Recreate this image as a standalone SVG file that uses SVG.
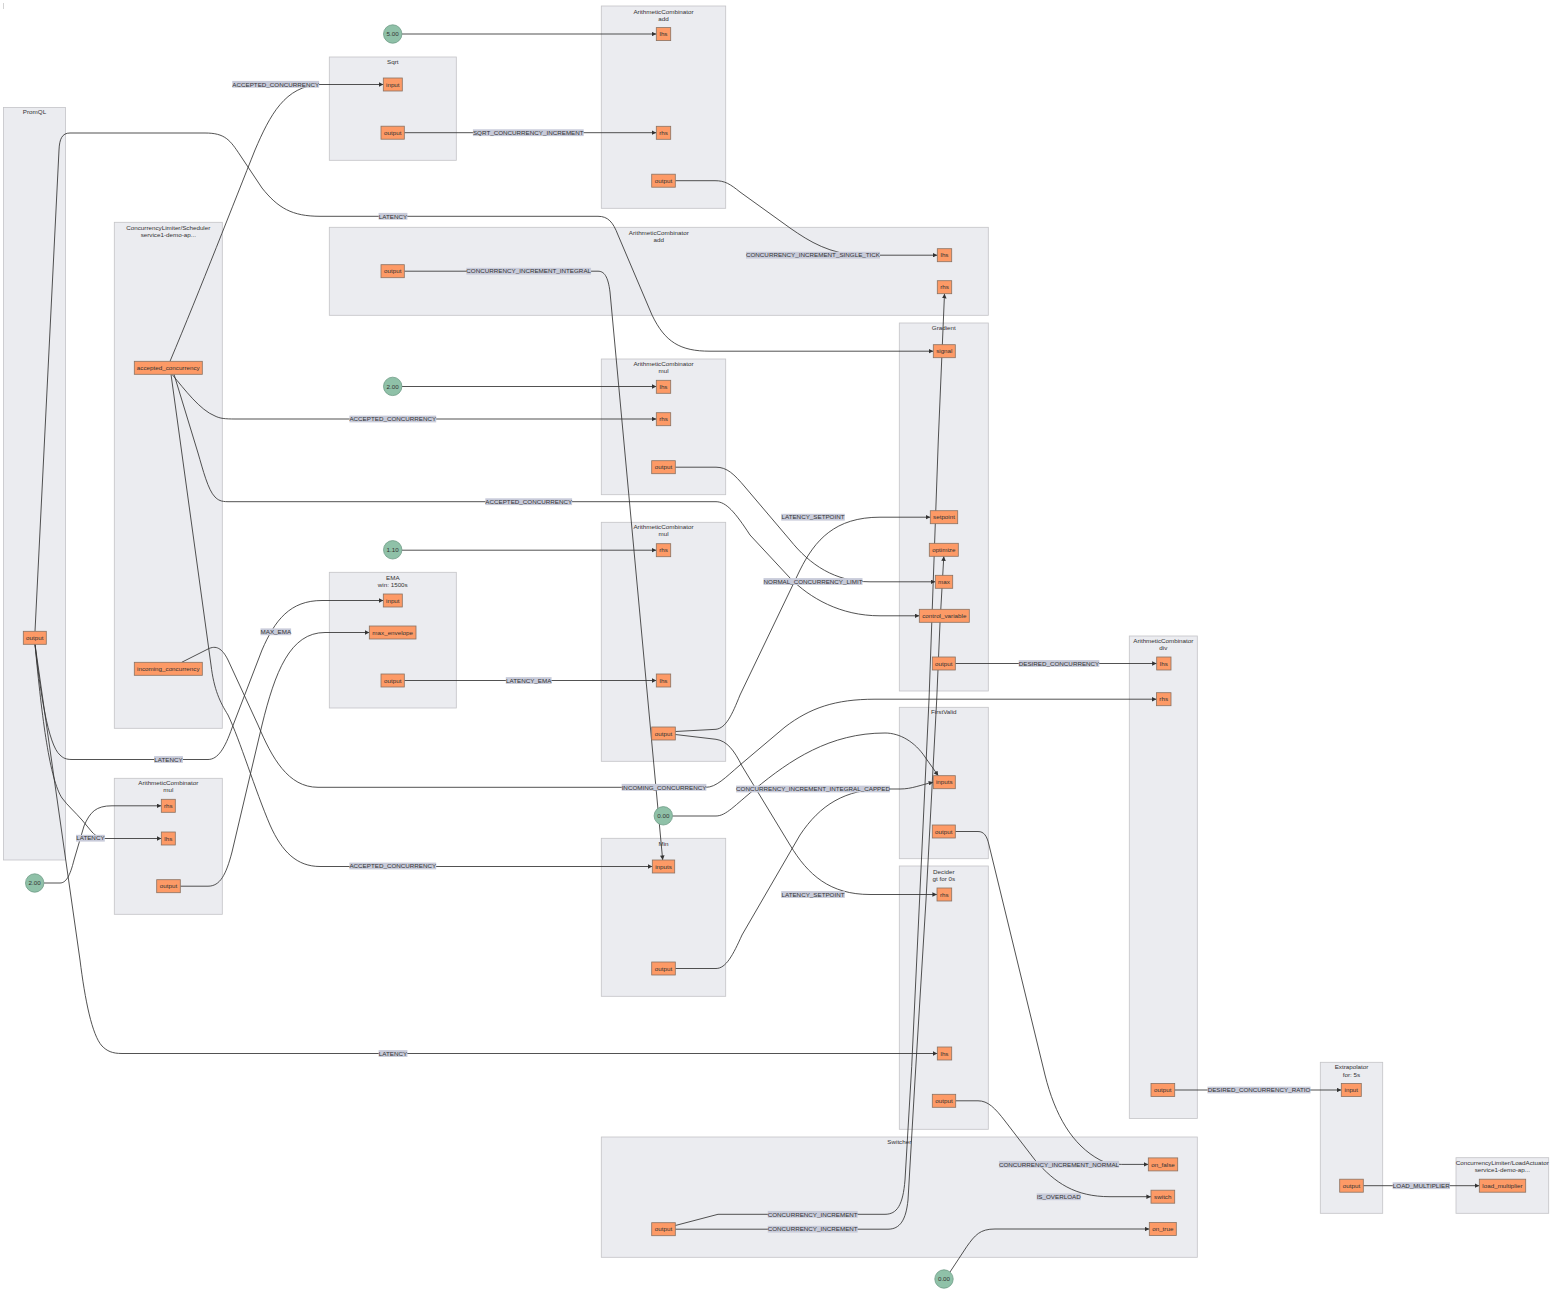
<svg xmlns="http://www.w3.org/2000/svg" width="1568" height="1306" viewBox="0 0 1568 1306">
<defs>
<marker id="arr" viewBox="0 0 10 10" refX="10" refY="5" markerWidth="5" markerHeight="4.6" markerUnits="userSpaceOnUse" orient="auto"><path d="M0,0 L10,5 L0,10 z" fill="#333"/></marker>
<style>
.cl rect{fill:#ebecf0;stroke:#c4c4c7;stroke-width:0.8}
.t{font-family:"Liberation Sans",Arial,sans-serif;font-size:6.25px;fill:#333;text-anchor:middle}
.port rect{fill:#fd9a66;stroke:#8a7262;stroke-width:0.8}
.const circle{fill:#8fc1a8;stroke:#6f9c86;stroke-width:0.8}
.e{fill:none;stroke:#333;stroke-width:0.85;marker-end:url(#arr)}
.lb rect{fill:#c8cbda}
</style>
</defs>
<rect width="1568" height="1306" fill="#fff"/>
<line x1="3.5" y1="3" x2="3.5" y2="9" stroke="#c8c8c8" stroke-width="0.8"/>

<!-- clusters -->
<g id="cluster-promql" class="cl"><rect x="3.5" y="107.5" width="62" height="752.5"/><text class="t" x="34.5" y="113.9">PromQL</text></g>
<g id="cluster-scheduler" class="cl"><rect x="114.3" y="222.3" width="108" height="506"/><text class="t" x="168.3" y="229.9">ConcurrencyLimiter/Scheduler</text><text class="t" x="168.3" y="236.9">service1-demo-ap...</text></g>
<g id="cluster-sqrt" class="cl"><rect x="329.3" y="57" width="127" height="103.3"/><text class="t" x="392.8" y="64.2">Sqrt</text></g>
<g id="cluster-add1" class="cl"><rect x="601.3" y="6" width="124.4" height="202.3"/><text class="t" x="663.5" y="13.9">ArithmeticCombinator</text><text class="t" x="663.5" y="20.9">add</text></g>
<g id="cluster-add2" class="cl"><rect x="329.3" y="227.3" width="659" height="88"/><text class="t" x="658.8" y="234.9">ArithmeticCombinator</text><text class="t" x="658.8" y="241.9">add</text></g>
<g id="cluster-mul1" class="cl"><rect x="601.3" y="359" width="124.4" height="135.7"/><text class="t" x="663.5" y="365.9">ArithmeticCombinator</text><text class="t" x="663.5" y="372.9">mul</text></g>
<g id="cluster-gradient" class="cl"><rect x="899.3" y="323" width="89" height="368"/><text class="t" x="943.8" y="329.9">Gradient</text></g>
<g id="cluster-ema" class="cl"><rect x="329.3" y="572.3" width="127" height="135.7"/><text class="t" x="392.8" y="579.9">EMA</text><text class="t" x="392.8" y="586.9">win: 1500s</text></g>
<g id="cluster-mul3" class="cl"><rect x="601.3" y="522.3" width="124.4" height="239"/><text class="t" x="663.5" y="528.9">ArithmeticCombinator</text><text class="t" x="663.5" y="535.9">mul</text></g>
<g id="cluster-mul2" class="cl"><rect x="114.3" y="778.3" width="108" height="136"/><text class="t" x="168.3" y="785.2">ArithmeticCombinator</text><text class="t" x="168.3" y="792.2">mul</text></g>
<g id="cluster-min" class="cl"><rect x="601.3" y="838.3" width="124.4" height="158"/><text class="t" x="663.5" y="845.9">Min</text></g>
<g id="cluster-firstvalid" class="cl"><rect x="899.3" y="707.3" width="89" height="151.4"/><text class="t" x="943.8" y="713.9">FirstValid</text></g>
<g id="cluster-decider" class="cl"><rect x="899.3" y="866" width="89" height="263.3"/><text class="t" x="943.8" y="873.9">Decider</text><text class="t" x="943.8" y="880.9">gt for 0s</text></g>
<g id="cluster-div" class="cl"><rect x="1129.3" y="636" width="68" height="482.4"/><text class="t" x="1163.3" y="643">ArithmeticCombinator</text><text class="t" x="1163.3" y="650">div</text></g>
<g id="cluster-switcher" class="cl"><rect x="601.3" y="1137" width="596" height="120.3"/><text class="t" x="899.3" y="1143.9">Switcher</text></g>
<g id="cluster-extrapolator" class="cl"><rect x="1320.3" y="1062.3" width="62.4" height="151"/><text class="t" x="1351.5" y="1068.9">Extrapolator</text><text class="t" x="1351.5" y="1076.5">for: 5s</text></g>
<g id="cluster-loadactuator" class="cl"><rect x="1456" y="1157.7" width="92.7" height="55.6"/><text class="t" x="1502.3" y="1164.9">ConcurrencyLimiter/LoadActuator</text><text class="t" x="1502.3" y="1171.9">service1-demo-ap...</text></g>

<!-- connectors -->
<g id="connectors">
<path class="e" d="M401.9,34 H656.3"/>
<path class="e" d="M170,361.3 C200,290 235,200 255,150 C270,115 285,86 320,84.5 H383.3"/>
<path class="e" d="M404.3,132.7 H656.3"/>
<path class="e" d="M35,631.3 L59,150 C59.5,139 62,133 70,133 H205 C225,133 230,140 240,155 L262,188 C278,208 292,216.3 320,216.3 H598 C608,216.3 613,222 618,235 L652,315 C665,342 680,351.2 710,351.2 H933.3"/>
<path class="e" d="M675.3,180.7 H715 C725,180.7 730,184 740,192 L790,228 C810,242 830,254 860,255.2 H937.3"/>
<path class="e" d="M404.3,271.2 H598 C604,271.2 608,276 610,292 L662.7,860"/>
<path class="e" d="M675.3,1225.5 L718,1214.3 H885 C897,1214.3 903,1205 905,1180 L911.7,1066.7 L929,700 L938.3,440 L944.5,293.7"/>
<path class="e" d="M675.3,1229.2 H888 C900,1229.2 906,1220 908,1200 L915,1080 L926,900 L936.7,700 L940,623 L943.8,556.3"/>
<path class="e" d="M172,374.3 C185,390 200,410 215,416 C220,418.5 225,419 235,419 H656.3"/>
<path class="e" d="M401.9,386.5 H656.3"/>
<path class="e" d="M174,374.3 L198,453 C203,470 208,490 215,497 C218,500 221,501.7 228,501.7 H716 C726,501.7 735,512 750,535 L790,578 C810,598 840,615.8 880,615.8 H919.3"/>
<path class="e" d="M171,374.3 L211,665 C214,690 220,702 228,715 C240,740 255,790 270,825 C282,852 297,866.5 320,866.5 H652.3"/>
<path class="e" d="M181.7,662.3 L208,649 C216,645 222,648 228,660 L258,725 C272,758 288,787.3 318,787.3 H706 C716,787.3 725,778 740,765 L785,727 C810,708 835,699.2 875,699.2 H1156.4"/>
<path class="e" d="M35,644.3 C40,690 48,745 60,755 C63,758 66,759.5 72,759.5 H208 C218,759.5 225,748 232,728 L262,650 C275,620 290,600.5 322,600.5 H383.3"/>
<path class="e" d="M180.3,886.2 H208 C220,886.2 226,875 232,852 L262,725 C275,672 290,632.5 325,632.5 H369.3"/>
<path class="e" d="M35,644.3 C42,720 50,780 62,798 C68,806 75,812 82,820 L92,832 C96,836 99,838.5 106,838.5 H161.3"/>
<path class="e" d="M43.9,883 H60 C66,883 70,876 74,860 L84,826 C90,812 96,805.8 112,805.8 H161.3"/>
<path class="e" d="M35,644.3 L80,960 C85,1000 92,1035 102,1046 C107,1051 112,1053.5 122,1053.5 H937.3"/>
<path class="e" d="M404.3,680.5 H656.3"/>
<path class="e" d="M401.9,550.2 H656.3"/>
<path class="e" d="M675.3,731.5 L716,729.3 C726,728 732,715 740,695 L800,570 C815,540 835,517.2 880,517.2 H930.3"/>
<path class="e" d="M675.3,734.5 L716,739.3 C727,741 734,750 742,766 L790,845 C808,875 830,894.5 870,894.5 H937"/>
<path class="e" d="M675.3,467.2 H716 C727,467.2 734,474 745,487 L790,540 C810,565 835,581.8 870,581.8 H935.3"/>
<path class="e" d="M672.5,816 H716 C726,816 735,805 755,789 C790,760 830,733 885,733 C900,733 915,742 925,757 L938.3,775.7"/>
<path class="e" d="M675.3,968.5 H716 C726,968.5 733,955 742,935 L800,835 C820,805 845,789 885,789 H900 C912,789 920,785 933.3,782.2"/>
<path class="e" d="M955.3,663.5 H1156.7"/>
<path class="e" d="M955.3,831.5 H978 C984,831.5 987,836 989,845 L1045,1075 C1055,1115 1072,1145 1100,1160 C1108,1164 1115,1164.4 1125,1164.4 H1148.3"/>
<path class="e" d="M955.7,1100.8 H978 C988,1100.8 995,1108 1005,1121 L1035,1160 C1055,1183 1075,1196.7 1110,1196.7 H1151"/>
<path class="e" d="M950,1272 L966.7,1246.7 C975,1235 980,1229 995,1229 H1149.3"/>
<path class="e" d="M1174.7,1090 H1341.3"/>
<path class="e" d="M1363.3,1185.7 H1479.3"/>
</g>

<!-- edge labels -->
<g id="edge-labels" class="lb">
<rect x="232.3" y="80.9" width="86.8" height="6.8"/><text class="t" x="275.7" y="86.5">ACCEPTED_CONCURRENCY</text>
<rect x="472.9" y="129.3" width="110.8" height="6.8"/><text class="t" x="528.3" y="134.9">SQRT_CONCURRENCY_INCREMENT</text>
<rect x="378.6" y="212.9" width="28.8" height="6.8"/><text class="t" x="393" y="218.5">LATENCY</text>
<rect x="746" y="251.8" width="134" height="6.8"/><text class="t" x="813" y="257.4">CONCURRENCY_INCREMENT_SINGLE_TICK</text>
<rect x="466.35" y="267.8" width="124.7" height="6.8"/><text class="t" x="528.7" y="273.4">CONCURRENCY_INCREMENT_INTEGRAL</text>
<rect x="349.4" y="415.6" width="86.8" height="6.8"/><text class="t" x="392.8" y="421.2">ACCEPTED_CONCURRENCY</text>
<rect x="485.3" y="498.3" width="86.8" height="6.8"/><text class="t" x="528.7" y="503.9">ACCEPTED_CONCURRENCY</text>
<rect x="781.2" y="513.8" width="63.6" height="6.8"/><text class="t" x="813" y="519.4">LATENCY_SETPOINT</text>
<rect x="763.5" y="578.1" width="99" height="6.8"/><text class="t" x="813" y="583.7">NORMAL_CONCURRENCY_LIMIT</text>
<rect x="260.5" y="628.4" width="30.6" height="6.8"/><text class="t" x="275.8" y="634">MAX_EMA</text>
<rect x="1018.7" y="660.1" width="80.6" height="6.8"/><text class="t" x="1059" y="665.7">DESIRED_CONCURRENCY</text>
<rect x="505.8" y="677.1" width="45.8" height="6.8"/><text class="t" x="528.7" y="682.7">LATENCY_EMA</text>
<rect x="154.1" y="756.1" width="28.8" height="6.8"/><text class="t" x="168.5" y="761.7">LATENCY</text>
<rect x="621.65" y="783.9" width="84.7" height="6.8"/><text class="t" x="664" y="789.5">INCOMING_CONCURRENCY</text>
<rect x="736.1" y="785.6" width="153.8" height="6.8"/><text class="t" x="813" y="791.2">CONCURRENCY_INCREMENT_INTEGRAL_CAPPED</text>
<rect x="76" y="834.8" width="28.8" height="6.8"/><text class="t" x="90.4" y="840.4">LATENCY</text>
<rect x="349.4" y="862.6" width="86.8" height="6.8"/><text class="t" x="392.8" y="868.2">ACCEPTED_CONCURRENCY</text>
<rect x="781.2" y="891.1" width="63.6" height="6.8"/><text class="t" x="813" y="896.7">LATENCY_SETPOINT</text>
<rect x="378.6" y="1050.1" width="28.8" height="6.8"/><text class="t" x="393" y="1055.7">LATENCY</text>
<rect x="1207.45" y="1086.6" width="103.1" height="6.8"/><text class="t" x="1259" y="1092.2">DESIRED_CONCURRENCY_RATIO</text>
<rect x="998.95" y="1160.9" width="120.1" height="6.8"/><text class="t" x="1059" y="1166.5">CONCURRENCY_INCREMENT_NORMAL</text>
<rect x="1392.65" y="1182.3" width="57.3" height="6.8"/><text class="t" x="1421.3" y="1187.9">LOAD_MULTIPLIER</text>
<rect x="1036.65" y="1193.4" width="44.1" height="6.8"/><text class="t" x="1058.7" y="1199">IS_OVERLOAD</text>
<rect x="767.75" y="1210.9" width="89.9" height="6.8"/><text class="t" x="812.7" y="1216.5">CONCURRENCY_INCREMENT</text>
<rect x="767.75" y="1225.8" width="89.9" height="6.8"/><text class="t" x="812.7" y="1231.4">CONCURRENCY_INCREMENT</text>
</g>

<!-- constants -->
<g id="const-5" class="const"><circle cx="392.7" cy="34" r="9.2"/><text class="t" x="392.7" y="36.2">5.00</text></g>
<g id="const-2a" class="const"><circle cx="392.7" cy="386.4" r="9.2"/><text class="t" x="392.7" y="388.6">2.00</text></g>
<g id="const-1-1" class="const"><circle cx="392.7" cy="549.8" r="9.2"/><text class="t" x="392.7" y="552">1.10</text></g>
<g id="const-2b" class="const"><circle cx="34.7" cy="883" r="9.2"/><text class="t" x="34.7" y="885.2">2.00</text></g>
<g id="const-0a" class="const"><circle cx="663.3" cy="815.8" r="9.2"/><text class="t" x="663.3" y="818">0.00</text></g>
<g id="const-0b" class="const"><circle cx="944" cy="1279" r="9.2"/><text class="t" x="944" y="1281.2">0.00</text></g>

<!-- ports -->
<g id="sqrt-input" class="port"><rect x="383.3" y="78" width="19" height="13"/><text class="t" x="392.8" y="86.7">input</text></g>
<g id="sqrt-output" class="port"><rect x="381" y="126.2" width="23.3" height="13"/><text class="t" x="392.7" y="134.9">output</text></g>
<g id="add1-lhs" class="port"><rect x="656.3" y="27.6" width="14.4" height="13"/><text class="t" x="663.5" y="36.3">lhs</text></g>
<g id="add1-rhs" class="port"><rect x="656.3" y="126.3" width="14.4" height="13"/><text class="t" x="663.5" y="135">rhs</text></g>
<g id="add1-output" class="port"><rect x="651.7" y="174.2" width="23.6" height="13"/><text class="t" x="663.5" y="182.9">output</text></g>
<g id="add2-output" class="port"><rect x="381" y="264.7" width="23.3" height="13"/><text class="t" x="392.7" y="273.4">output</text></g>
<g id="add2-lhs" class="port"><rect x="937.3" y="248.7" width="14.4" height="13"/><text class="t" x="944.5" y="257.4">lhs</text></g>
<g id="add2-rhs" class="port"><rect x="937.3" y="280.7" width="14.4" height="13"/><text class="t" x="944.5" y="289.4">rhs</text></g>
<g id="gradient-signal" class="port"><rect x="933.3" y="344.7" width="22" height="13"/><text class="t" x="944.3" y="353.4">signal</text></g>
<g id="gradient-setpoint" class="port"><rect x="930.3" y="510.7" width="27.4" height="13"/><text class="t" x="944" y="519.4">setpoint</text></g>
<g id="gradient-optimize" class="port"><rect x="929.3" y="543.3" width="29" height="13"/><text class="t" x="943.8" y="552">optimize</text></g>
<g id="gradient-max" class="port"><rect x="935.3" y="575.3" width="17.4" height="13"/><text class="t" x="944" y="584">max</text></g>
<g id="gradient-control_variable" class="port"><rect x="919.3" y="609.3" width="50" height="13"/><text class="t" x="944.3" y="618">control_variable</text></g>
<g id="gradient-output" class="port"><rect x="932.3" y="657" width="23" height="13"/><text class="t" x="943.8" y="665.7">output</text></g>
<g id="scheduler-accepted_concurrency" class="port"><rect x="134.3" y="361.3" width="68" height="13"/><text class="t" x="168.3" y="370">accepted_concurrency</text></g>
<g id="scheduler-incoming_concurrency" class="port"><rect x="134.3" y="662.3" width="68" height="13"/><text class="t" x="168.3" y="671">incoming_concurrency</text></g>
<g id="mul1-lhs" class="port"><rect x="656.3" y="380.3" width="14.4" height="13"/><text class="t" x="663.5" y="389">lhs</text></g>
<g id="mul1-rhs" class="port"><rect x="656.3" y="412.7" width="14.4" height="13"/><text class="t" x="663.5" y="421.4">rhs</text></g>
<g id="mul1-output" class="port"><rect x="651.7" y="460.7" width="23.6" height="13"/><text class="t" x="663.5" y="469.4">output</text></g>
<g id="mul3-rhs" class="port"><rect x="656.3" y="543.7" width="14.4" height="13"/><text class="t" x="663.5" y="552.4">rhs</text></g>
<g id="mul3-lhs" class="port"><rect x="656.3" y="674" width="14.4" height="13"/><text class="t" x="663.5" y="682.7">lhs</text></g>
<g id="mul3-output" class="port"><rect x="651.7" y="727" width="23.6" height="13"/><text class="t" x="663.5" y="735.7">output</text></g>
<g id="ema-input" class="port"><rect x="383.3" y="594" width="19" height="13"/><text class="t" x="392.8" y="602.7">input</text></g>
<g id="ema-max_envelope" class="port"><rect x="369.3" y="626" width="46.7" height="13"/><text class="t" x="392.7" y="634.7">max_envelope</text></g>
<g id="ema-output" class="port"><rect x="381" y="674" width="23.3" height="13"/><text class="t" x="392.7" y="682.7">output</text></g>
<g id="promql-output" class="port"><rect x="23.3" y="631.3" width="23" height="13"/><text class="t" x="34.8" y="640">output</text></g>
<g id="mul2-rhs" class="port"><rect x="161.3" y="799.3" width="14" height="13"/><text class="t" x="168.3" y="808">rhs</text></g>
<g id="mul2-lhs" class="port"><rect x="161.3" y="832" width="14" height="13"/><text class="t" x="168.3" y="840.7">lhs</text></g>
<g id="mul2-output" class="port"><rect x="156.7" y="879.7" width="23.6" height="13"/><text class="t" x="168.5" y="888.4">output</text></g>
<g id="min-inputs" class="port"><rect x="652.3" y="860" width="22.4" height="13"/><text class="t" x="663.5" y="868.7">inputs</text></g>
<g id="min-output" class="port"><rect x="651.7" y="962" width="23.6" height="13"/><text class="t" x="663.5" y="970.7">output</text></g>
<g id="firstvalid-inputs" class="port"><rect x="933.3" y="775.7" width="22" height="13"/><text class="t" x="944.3" y="784.4">inputs</text></g>
<g id="firstvalid-output" class="port"><rect x="932.3" y="825" width="23" height="13"/><text class="t" x="943.8" y="833.7">output</text></g>
<g id="decider-rhs" class="port"><rect x="937" y="888" width="14.7" height="13"/><text class="t" x="944.3" y="896.7">rhs</text></g>
<g id="decider-lhs" class="port"><rect x="937.3" y="1047" width="14.4" height="13"/><text class="t" x="944.5" y="1055.7">lhs</text></g>
<g id="decider-output" class="port"><rect x="932.3" y="1094.3" width="23.4" height="13"/><text class="t" x="944" y="1103">output</text></g>
<g id="div-lhs" class="port"><rect x="1156.7" y="657" width="14.3" height="13"/><text class="t" x="1163.8" y="665.7">lhs</text></g>
<g id="div-rhs" class="port"><rect x="1156.4" y="692.7" width="14.6" height="13"/><text class="t" x="1163.7" y="701.4">rhs</text></g>
<g id="div-output" class="port"><rect x="1151" y="1083.5" width="23.7" height="13"/><text class="t" x="1162.8" y="1092.2">output</text></g>
<g id="switcher-on_false" class="port"><rect x="1148.3" y="1157.9" width="29.4" height="13"/><text class="t" x="1163" y="1166.6">on_false</text></g>
<g id="switcher-switch" class="port"><rect x="1151" y="1190.2" width="23.7" height="13"/><text class="t" x="1162.8" y="1198.9">switch</text></g>
<g id="switcher-on_true" class="port"><rect x="1149.3" y="1222.5" width="27" height="13"/><text class="t" x="1162.8" y="1231.2">on_true</text></g>
<g id="switcher-output" class="port"><rect x="651.7" y="1222.7" width="23.6" height="13"/><text class="t" x="663.5" y="1231.4">output</text></g>
<g id="extrapolator-input" class="port"><rect x="1341.3" y="1083.5" width="20" height="13"/><text class="t" x="1351.3" y="1092.2">input</text></g>
<g id="extrapolator-output" class="port"><rect x="1339.7" y="1179.2" width="23.6" height="13"/><text class="t" x="1351.5" y="1187.9">output</text></g>
<g id="loadactuator-load_multiplier" class="port"><rect x="1479.3" y="1179.2" width="46.4" height="13"/><text class="t" x="1502.5" y="1187.9">load_multiplier</text></g>
</svg>
